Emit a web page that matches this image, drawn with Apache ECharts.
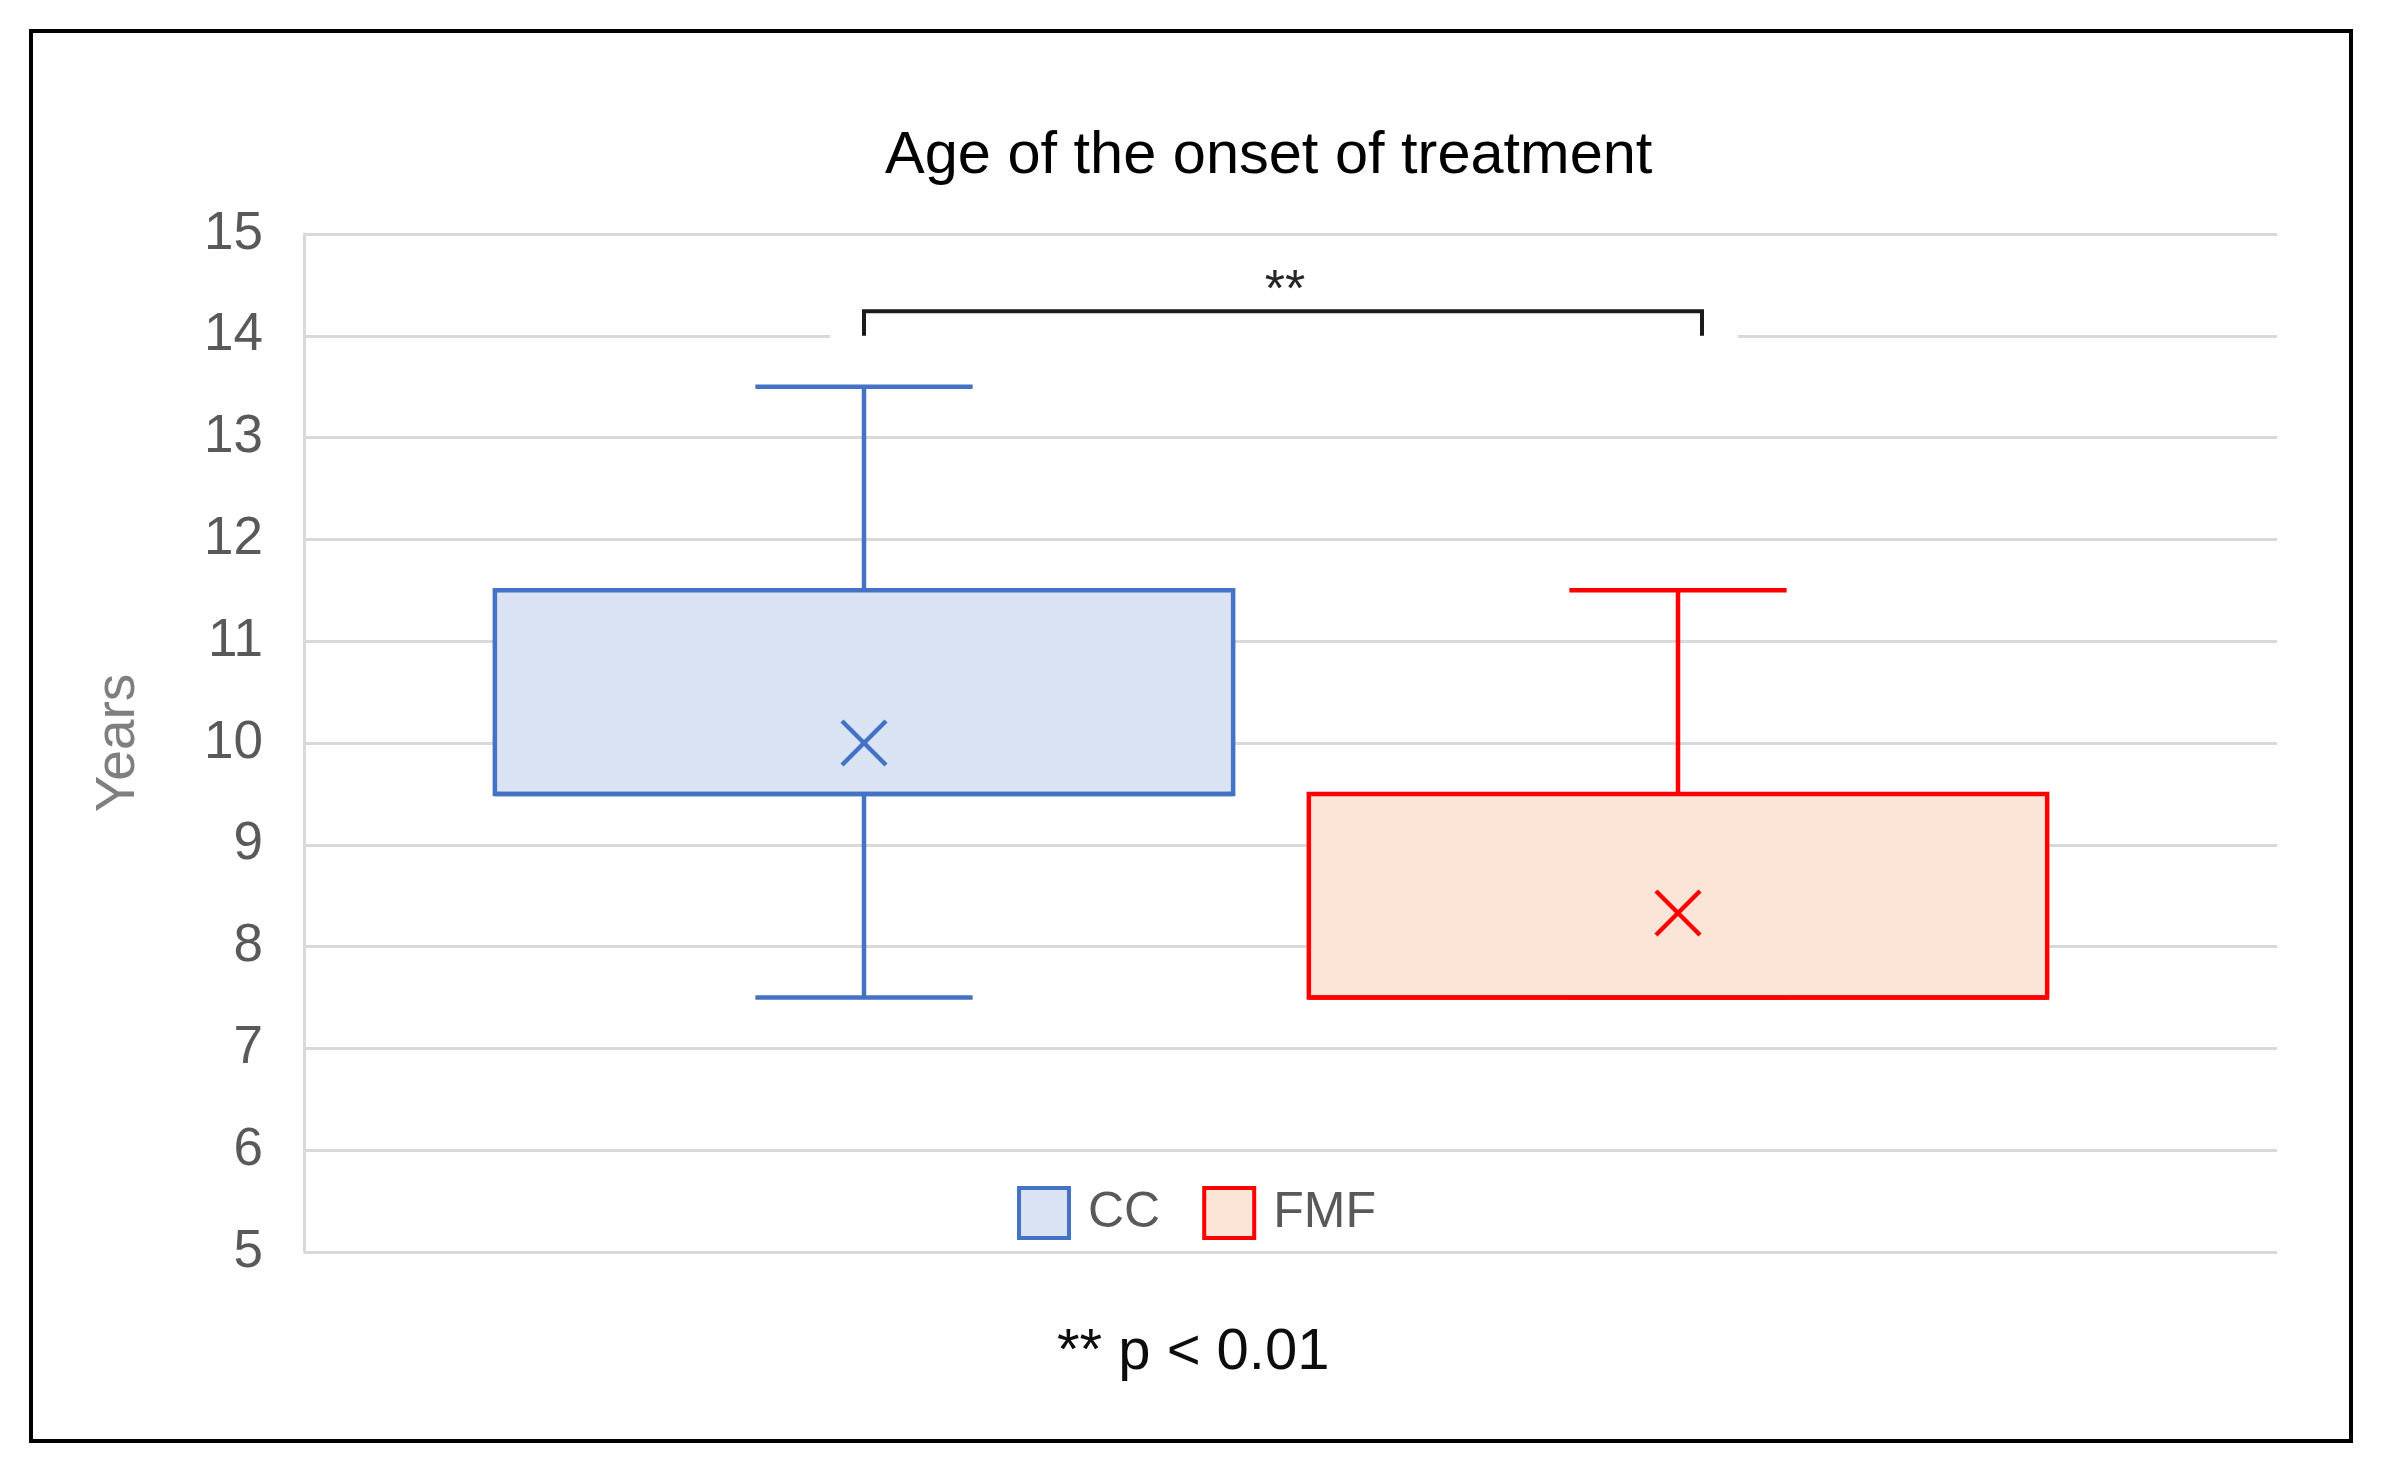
<!DOCTYPE html>
<html>
<head>
<meta charset="utf-8">
<script src="https://cdn.jsdelivr.net/npm/echarts@6/dist/echarts.min.js"></script>
<style>
html,body{margin:0;padding:0;background:#fff;}
#chart{width:2396px;height:1475px;}
</style>
</head>
<body>
<div id="chart"></div>
<script>
// ---- data ----
const categories = ['CC', 'FMF'];
const whiskerLow = [7.5, 7.5];
const q1 = [9.5, 7.5];
const median = [9.5, 7.5];
const q3 = [11.5, 9.5];
const whiskerHigh = [13.5, 11.5];
const means = [10.0, 8.33];
const yTicks = [5, 6, 7, 8, 9, 10, 11, 12, 13, 14, 15];
const sigPair = ['CC', 'FMF'];
const sigBracketTop = 14.24;
const sigBracketBottom = 14.0;
const sigLabel = '**';

// ---- styles ----
const strokeColors = ['#4472C4', '#FF0000'];
const fillColors = ['#DAE3F3', '#FBE5D6'];
const FONT = 'Liberation Sans, Arial, sans-serif';

const chart = echarts.init(document.getElementById('chart'));

const boxSeries = categories.map(function (name, i) {
  return {
    name: name,
    type: 'custom',
    xAxisIndex: 1,
    yAxisIndex: 1,
    z: 3,
    itemStyle: { color: fillColors[i], borderColor: strokeColors[i] },
    encode: { x: 0, y: [1, 2, 3, 4, 5, 6] },
    data: [[i, whiskerLow[i], q1[i], median[i], q3[i], whiskerHigh[i], means[i]]],
    renderItem: function (params, api) {
      const idx = api.value(0);
      const band = api.size([1, 0])[0];
      const bw = band * 0.907;
      const cw = band * 0.267;
      const pLow = api.coord([idx, api.value(1)]);
      const pQ1 = api.coord([idx, api.value(2)]);
      const pMed = api.coord([idx, api.value(3)]);
      const pQ3 = api.coord([idx, api.value(4)]);
      const pHigh = api.coord([idx, api.value(5)]);
      const pMean = api.coord([idx, api.value(6)]);
      const cx = pQ1[0];
      const stroke = strokeColors[i];
      const ls = { stroke: stroke, lineWidth: 4.5 };
      const m = 22;
      const children = [
        { type: 'line', shape: { x1: cx, y1: pHigh[1], x2: cx, y2: pQ3[1] }, style: ls },
        { type: 'line', shape: { x1: cx - cw / 2, y1: pHigh[1], x2: cx + cw / 2, y2: pHigh[1] }, style: ls },
        { type: 'line', shape: { x1: cx, y1: pQ1[1], x2: cx, y2: pLow[1] }, style: ls },
        { type: 'line', shape: { x1: cx - cw / 2, y1: pLow[1], x2: cx + cw / 2, y2: pLow[1] }, style: ls },
        { type: 'rect', shape: { x: cx - bw / 2, y: pQ3[1], width: bw, height: pQ1[1] - pQ3[1] },
          style: { fill: fillColors[i], stroke: stroke, lineWidth: 4.5 } },
        { type: 'line', shape: { x1: cx - bw / 2, y1: pMed[1], x2: cx + bw / 2, y2: pMed[1] }, style: ls },
        { type: 'line', shape: { x1: cx - m, y1: pMean[1] - m, x2: cx + m, y2: pMean[1] + m }, style: { stroke: stroke, lineWidth: 4.5 } },
        { type: 'line', shape: { x1: cx - m, y1: pMean[1] + m, x2: cx + m, y2: pMean[1] - m }, style: { stroke: stroke, lineWidth: 4.5 } }
      ];
      return { type: 'group', children: children };
    }
  };
});

const bracketSeries = {
  name: 'significance',
  type: 'custom',
  xAxisIndex: 1,
  yAxisIndex: 1,
  z: 2,
  silent: true,
  encode: { x: [0, 1], y: [2, 3] },
  data: [[categories.indexOf(sigPair[0]), categories.indexOf(sigPair[1]), sigBracketTop, sigBracketBottom]],
  renderItem: function (params, api) {
    const a = api.coord([api.value(0), api.value(2)]);
    const b = api.coord([api.value(1), api.value(2)]);
    const bottom = api.coord([api.value(0), api.value(3)]);
    const x1 = a[0];
    const x2 = b[0] + 24;
    const yTop = a[1];
    const yBot = bottom[1];
    return {
      type: 'group',
      children: [
        { type: 'rect', shape: { x: x1 - 34, y: yTop - 70, width: (x2 - x1) + 70, height: (yBot - yTop) + 82 },
          style: { fill: '#ffffff' } },
        { type: 'polyline', shape: { points: [[x1, yBot], [x1, yTop], [x2, yTop], [x2, yBot]] },
          style: { stroke: '#1a1a1a', lineWidth: 4, fill: null } },
        { type: 'text', style: { text: sigLabel, x: (x1 + x2) / 2 + 2, y: yTop + 6, align: 'center', verticalAlign: 'bottom',
          fontSize: 52, fontFamily: FONT, fill: '#262626' } }
      ]
    };
  }
};

const option = {
  backgroundColor: '#ffffff',
  animation: false,
  title: [
    {
      text: 'Age of the onset of treatment',
      left: 880,
      top: 122,
      textStyle: { fontFamily: FONT, fontSize: 59.5, fontWeight: 'normal', color: '#000000' }
    },
    {
      text: '** p < 0.01',
      left: 1052,
      top: 1319,
      textStyle: { fontFamily: FONT, fontSize: 58, fontWeight: 'normal', color: '#0d0d0d' }
    }
  ],
  legend: {
    left: 1012,
    top: 1181,
    itemWidth: 50,
    itemHeight: 50,
    itemGap: 42,
    icon: 'rect',
    textStyle: { fontFamily: FONT, fontSize: 50, color: '#595959', padding: [0, 0, 0, 14] },
    data: categories.map(function (name, i) {
      return { name: name, icon: 'rect', itemStyle: { color: fillColors[i], borderColor: strokeColors[i], borderWidth: 4 } };
    })
  },
  grid: [
    { left: 304, right: 119, top: 234, bottom: 223, containLabel: false },
    { left: 457, right: 311, top: 234, bottom: 223, containLabel: false }
  ],
  xAxis: [
    { type: 'category', gridIndex: 0, data: [''], axisLine: { show: false }, axisTick: { show: false }, axisLabel: { show: false } },
    { type: 'category', gridIndex: 1, data: categories, show: false }
  ],
  yAxis: [
    {
      type: 'value', gridIndex: 0, min: yTicks[0], max: yTicks[yTicks.length - 1], interval: 1,
      name: 'Years', nameLocation: 'middle', nameRotate: 90, nameGap: 158,
      nameTextStyle: { fontFamily: FONT, fontSize: 55, color: '#7f7f7f' },
      axisLine: { show: true, lineStyle: { color: '#d9d9d9', width: 3 } },
      axisTick: { show: false },
      axisLabel: { fontFamily: FONT, fontSize: 53, color: '#595959', margin: 41 },
      splitLine: { show: true, lineStyle: { color: '#d9d9d9', width: 3 } }
    },
    { type: 'value', gridIndex: 1, min: yTicks[0], max: yTicks[yTicks.length - 1], show: false }
  ],
  graphic: [
    { type: 'rect', z: -10, shape: { x: 31, y: 31, width: 2320, height: 1410 },
      style: { fill: null, stroke: '#000000', lineWidth: 4 } }
  ],
  series: [bracketSeries].concat(boxSeries)
};

chart.setOption(option);
</script>
</body>
</html>
